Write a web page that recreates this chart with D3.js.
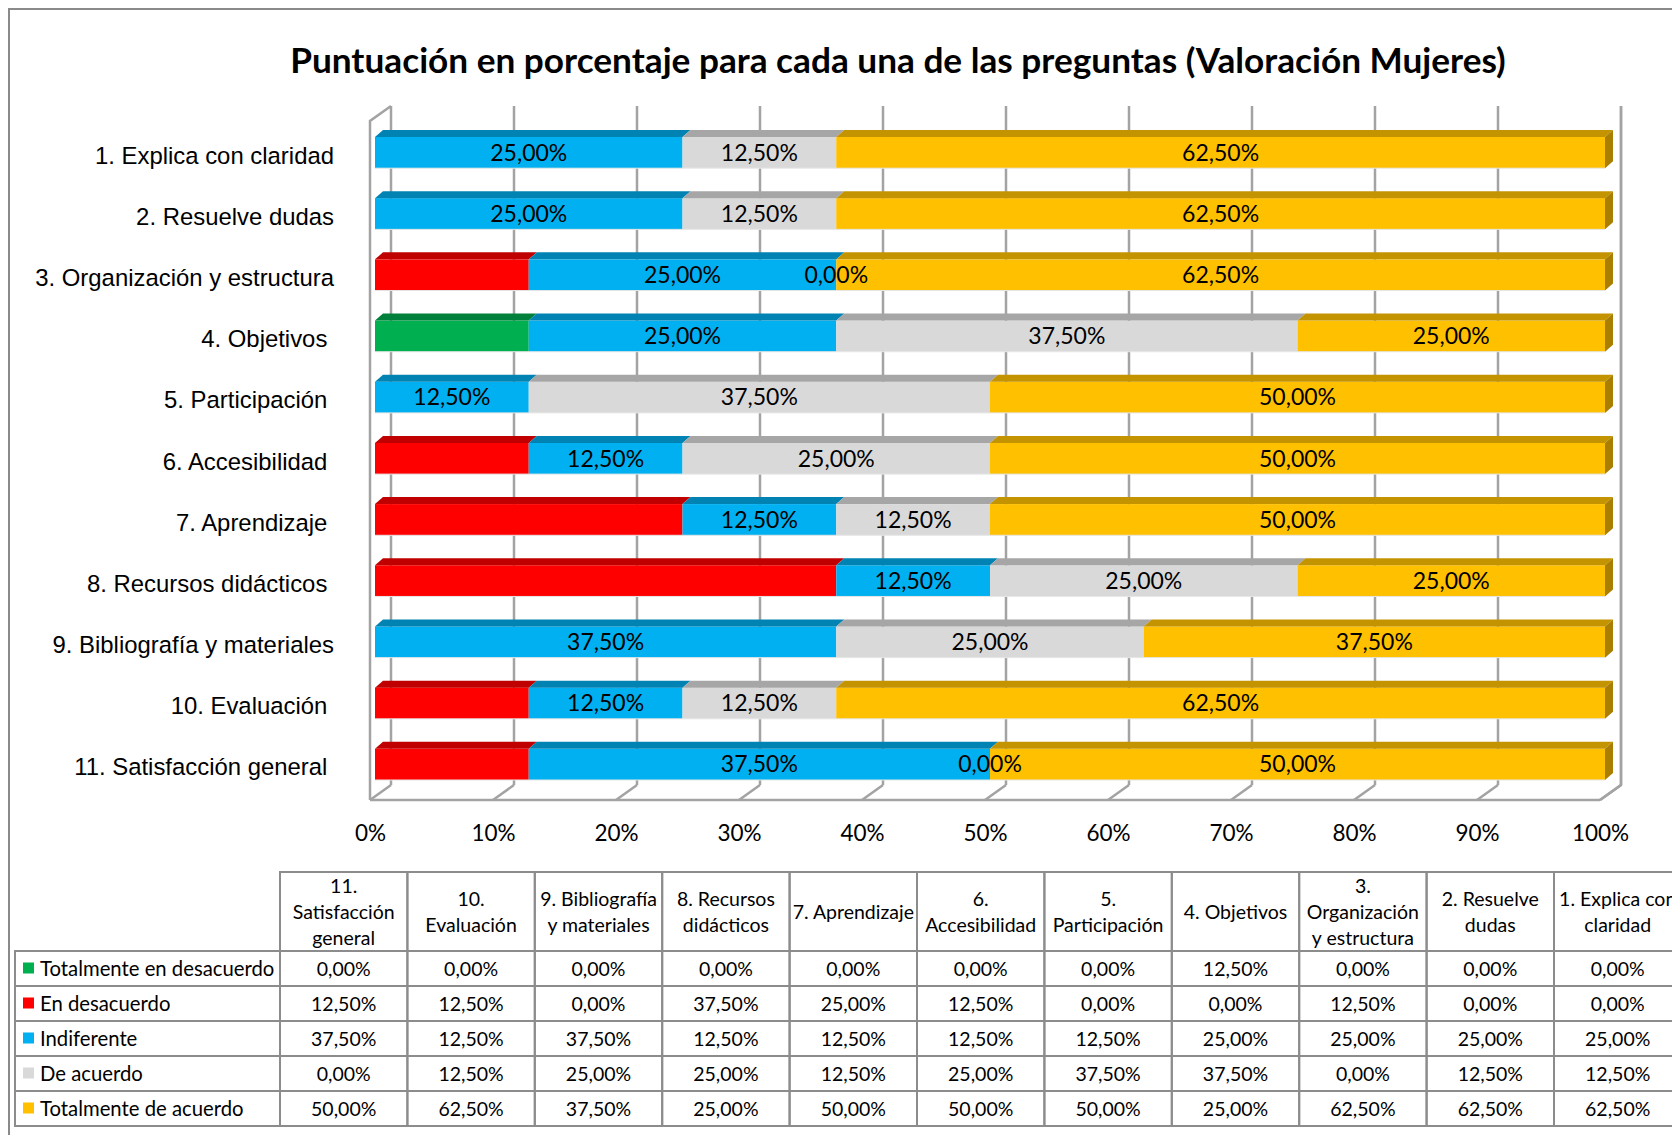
<!DOCTYPE html>
<html>
<head>
<meta charset="utf-8">
<script src="https://cdn.jsdelivr.net/npm/d3@7"></script>
<style>
  body { margin: 0; background: #fff; }
  svg { display: block; }
</style>
</head>
<body>
<div id="chart"></div>
<script>
// questions, top to bottom in the chart
const categories = [
  "1. Explica con claridad", "2. Resuelve dudas", "3. Organización y estructura",
  "4. Objetivos ", "5. Participación ", "6. Accesibilidad ", "7. Aprendizaje ",
  "8. Recursos didácticos ", "9. Bibliografía y materiales", "10. Evaluación ",
  "11. Satisfacción general "
];
// table column headers (right to left order of the table = 11 .. 1)
const tableHeaders = [
  "11.|Satisfacción|general", "10.|Evaluación", "9. Bibliografía|y materiales",
  "8. Recursos|didácticos", "7. Aprendizaje", "6.|Accesibilidad", "5.|Participación",
  "4. Objetivos", "3.|Organización|y estructura", "2. Resuelve|dudas", "1. Explica con|claridad"
];
const seriesNames = ["Totalmente en desacuerdo", "En desacuerdo", "Indiferente", "De acuerdo", "Totalmente de acuerdo"];
const seriesColors = ["#00B050", "#FF0000", "#00B0F0", "#D9D9D9", "#FFC000"];
const seriesTops = ["#00803a", "#C00000", "#0083B3", "#A6A6A6", "#C49300"];

// values per question (same order as categories)
const totDesacuerdo = [0, 0, 0, 12.5, 0, 0, 0, 0, 0, 0, 0];
const enDesacuerdo  = [0, 0, 12.5, 0, 0, 12.5, 25, 37.5, 0, 12.5, 12.5];
const indiferente   = [25, 25, 25, 25, 12.5, 12.5, 12.5, 12.5, 37.5, 12.5, 37.5];
const deAcuerdo     = [12.5, 12.5, 0, 37.5, 37.5, 25, 12.5, 25, 25, 12.5, 0];
const totAcuerdo    = [62.5, 62.5, 62.5, 25, 50, 50, 50, 25, 37.5, 62.5, 50];
const labelled = [false, false, true, true, true];

const xTicks = [0, 10, 20, 30, 40, 50, 60, 70, 80, 90, 100];

const seriesValues = [totDesacuerdo, enDesacuerdo, indiferente, deAcuerdo, totAcuerdo];
const fmt = v => v.toFixed(2).replace(".", ",") + "%";

const W = 1672, H = 1135;
const svg = d3.select("#chart").append("svg")
  .attr("width", W).attr("height", H);

// outer frame
svg.append("rect")
  .attr("x", 9).attr("y", 9).attr("width", W).attr("height", H)
  .attr("fill", "none").attr("stroke", "#8a8a8a").attr("stroke-width", 2);

svg.append("text")
  .attr("x", 898).attr("y", 73)
  .attr("text-anchor", "middle")
  .style("font-family", "Lato, sans-serif")
  .style("font-weight", "bold")
  .style("font-size", "35.2px")
  .text("Puntuación en porcentaje para cada una de las preguntas (Valoración Mujeres)");

// 3D frame geometry
const front = { left: 370, right: 1600, top: 121, floor: 800 };
const depth = { dx: 21, dy: 15 };
const xFront = d3.scaleLinear().domain([0, 100]).range([front.left, front.right]);
const xBar = d3.scaleLinear().domain([0, 100]).range([375, 1605]);
const y = d3.scaleBand().domain(categories).range([122, 795])
  .paddingInner(0.49).paddingOuter(0.245);
const bar = { dx: 8, dy: 7 };

const grid = svg.append("g")
  .attr("stroke", "#a3a3a3").attr("stroke-width", 2.5).attr("fill", "none");

// back wall gridlines
grid.selectAll("line.back").data(xTicks).join("line")
  .attr("x1", d => xFront(d) + depth.dx).attr("x2", d => xFront(d) + depth.dx)
  .attr("y1", front.top - depth.dy).attr("y2", front.floor - depth.dy);
// floor gridlines
grid.selectAll("line.floor").data(xTicks).join("line")
  .attr("x1", d => xFront(d)).attr("y1", front.floor)
  .attr("x2", d => xFront(d) + depth.dx).attr("y2", front.floor - depth.dy);
// front floor edge, left wall
grid.append("line")
  .attr("x1", front.left).attr("x2", front.right)
  .attr("y1", front.floor).attr("y2", front.floor);
grid.append("path")
  .attr("d", `M${front.left},${front.floor}V${front.top}L${front.left + depth.dx},${front.top - depth.dy}`);

// stacked 3D bars
const rows = categories.map((c, i) => {
  let acc = 0;
  return seriesValues.map((vals, s) => {
    const seg = { cat: c, s, v: vals[i], x0: acc, x1: acc + vals[i] };
    acc += vals[i];
    return seg;
  });
});

const bars = svg.append("g");
rows.forEach(segs => {
  const g = bars.append("g");
  const vis = segs.filter(d => d.v > 0);
  const top = d => y(d.cat);
  g.selectAll("rect").data(vis).join("rect")
    .attr("x", d => xBar(d.x0)).attr("y", top)
    .attr("width", d => xBar(d.x1) - xBar(d.x0))
    .attr("height", y.bandwidth())
    .attr("fill", d => seriesColors[d.s]);
  g.selectAll("path.top").data(vis).join("path")
    .attr("class", "top")
    .attr("d", d => {
      const a = xBar(d.x0), b = xBar(d.x1), t = top(d);
      return `M${a},${t}L${a + bar.dx},${t - bar.dy}L${b + bar.dx},${t - bar.dy}L${b},${t}Z`;
    })
    .attr("fill", d => seriesTops[d.s]);
  const last = vis[vis.length - 1];
  const b = xBar(last.x1), t = top(last);
  g.append("path")
    .attr("d", `M${b},${t}L${b + bar.dx},${t - bar.dy}L${b + bar.dx},${t - bar.dy + y.bandwidth()}L${b},${t + y.bandwidth()}Z`)
    .attr("fill", d3.color(seriesTops[last.s]).darker(0.4));
  // light bottom edge
  g.append("line")
    .attr("x1", xBar(0)).attr("x2", b)
    .attr("y1", t + y.bandwidth()).attr("y2", t + y.bandwidth())
    .attr("stroke", "#e6e6e6").attr("stroke-width", 1);

  g.selectAll("text").data(segs.filter(d => labelled[d.s])).join("text")
    .attr("x", d => (xBar(d.x0) + xBar(d.x1)) / 2)
    .attr("y", d => top(d) + y.bandwidth() / 2 + 8)
    .attr("text-anchor", "middle")
    .style("font-family", "Lato, sans-serif")
    .style("font-size", "23px")
    .attr("fill", "#000")
    .text(d => fmt(d.v));
});

// right back wall edge
grid.append("path")
  .attr("d", `M${front.right + depth.dx},${front.top - depth.dy}V${front.floor - depth.dy}L${front.right},${front.floor}`);
svg.node().appendChild(grid.node());
svg.node().appendChild(bars.node());

// category labels
svg.append("g").selectAll("text").data(categories).join("text")
  .attr("x", 334)
  .attr("y", d => y(d) + y.bandwidth() / 2 + 11)
  .attr("text-anchor", "end")
  .style("white-space", "pre")
  .style("font-family", "'Liberation Sans', Arial, sans-serif")
  .style("font-size", "23.9px")
  .text(d => d);

// x axis
const ax = svg.append("g")
  .attr("transform", `translate(0,${822})`)
  .call(d3.axisBottom(xFront).tickValues(xTicks).tickFormat(d => d + "%").tickSize(0));
ax.select(".domain").remove();
ax.selectAll("text")
  .style("font-family", "Lato, sans-serif")
  .style("font-size", "22.5px")
  .attr("fill", "#000");

// data table
const tbl = { left: 15, legendW: 265, colW: 127.4, headTop: 872, headH: 79, rowH: 35 };
const colIdx = categories.map((c, i) => i).reverse();
const colX = d3.scaleLinear().domain([0, 1]).range([tbl.left + tbl.legendW, tbl.left + tbl.legendW + tbl.colW]);
const t = svg.append("g");
const rowTop = r => tbl.headTop + tbl.headH + r * tbl.rowH;
const tableFont = (sel, size) => sel.style("font-family", "Lato, sans-serif").style("font-size", (size || 19.5) + "px").attr("fill", "#000");

// header cells
t.selectAll("rect.head").data(tableHeaders).join("rect")
  .attr("x", (d, i) => colX(i)).attr("y", tbl.headTop)
  .attr("width", tbl.colW).attr("height", tbl.headH)
  .attr("fill", "none").attr("stroke", "#8c8c8c").attr("stroke-width", 2);
t.selectAll("text.head").data(tableHeaders).join("text")
  .attr("text-anchor", "middle")
  .each(function (d, i) {
    const lines = d.split("|");
    const cx = colX(i) + tbl.colW / 2;
    const cy = tbl.headTop + tbl.headH / 2;
    const lh = 26;
    d3.select(this).selectAll("tspan").data(lines).join("tspan")
      .attr("x", cx)
      .attr("y", (l, k) => cy + (k - (lines.length - 1) / 2) * lh + 7)
      .text(l => l);
  })
  .call(tableFont);

// body rows
seriesNames.forEach((name, s) => {
  const ty = rowTop(s);
  t.append("rect")
    .attr("x", tbl.left).attr("y", ty).attr("width", tbl.legendW).attr("height", tbl.rowH)
    .attr("fill", "none").attr("stroke", "#8c8c8c").attr("stroke-width", 2);
  t.append("rect")
    .attr("x", tbl.left + 8).attr("y", ty + tbl.rowH / 2 - 6).attr("width", 11).attr("height", 11)
    .attr("fill", seriesColors[s]);
  t.append("text")
    .attr("x", tbl.left + 25).attr("y", ty + tbl.rowH / 2 + 7)
    .text(name).call(tableFont, 20.3);
  colIdx.forEach((ci, c) => {
    t.append("rect")
      .attr("x", colX(c)).attr("y", ty).attr("width", tbl.colW).attr("height", tbl.rowH)
      .attr("fill", "none").attr("stroke", "#8c8c8c").attr("stroke-width", 2);
    t.append("text")
      .attr("x", colX(c) + tbl.colW / 2).attr("y", ty + tbl.rowH / 2 + 7)
      .attr("text-anchor", "middle")
      .text(fmt(seriesValues[s][ci])).call(tableFont);
  });
});
</script>
</body>
</html>
